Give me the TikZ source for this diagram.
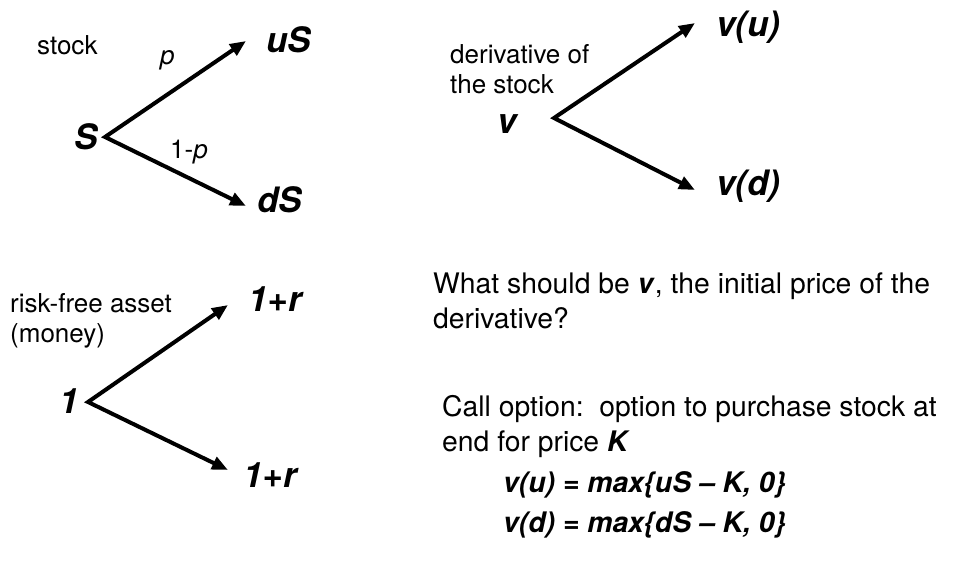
\documentclass[tikz,border=0pt]{standalone}
\usepackage{fontspec}
\setmainfont{TeX Gyre Heros}
\usetikzlibrary{arrows.meta}
\begin{document}
\begin{tikzpicture}[x=1pt,y=-1pt,
  small/.style={font=\fontsize{26}{30}\selectfont, inner sep=0pt},
  main/.style={font=\fontsize{28.3}{35}\selectfont, inner sep=0pt},
  big/.style={font=\fontsize{35}{40}\selectfont\bfseries\itshape, inner sep=0pt},
  formula/.style={font=\fontsize{28.3}{35}\selectfont\bfseries\itshape, inner sep=0pt},
  branch/.style={line width=4pt, line join=miter,
    {Triangle[length=16pt,width=13pt]}-{Triangle[length=16pt,width=13pt]}}]
\fill[white] (0,0) rectangle (958,565);
\useasboundingbox (0,0) rectangle (958,565);

% stock tree
\node[small, anchor=base west] (stocklbl) at (37,54) {stock};
\node[small, anchor=base west] (plbl) at (160,64) {\itshape p};
\node[small, anchor=base west] (qlbl) at (170,158) {1-\textit{p}};
\node[big, anchor=base west] (S) at (74,149) {S};
\node[big, anchor=base west] (uS) at (266,52) {uS};
\node[big, anchor=base west] (dS) at (257,212) {dS};
\coordinate (s0) at (105,137);
\coordinate (s1) at (246,41);
\coordinate (s2) at (246,206);
\draw[branch] (s1) -- (s0) -- (s2);

% derivative tree
\node[small, anchor=north west, align=left] (derivlbl) at (450,44) {derivative of\\the stock};
\node[big, anchor=base west] (v) at (497,133) {v};
\node[big, anchor=base west] (vu) at (716,36) {v(u)};
\node[big, anchor=base west] (vd) at (716,195) {v(d)};
\coordinate (d0) at (554,118);
\coordinate (d1) at (695,23);
\coordinate (d2) at (695,190);
\draw[branch] (d1) -- (d0) -- (d2);

% money tree
\node[small, anchor=north west, align=left] (rflbl) at (10,293) {risk-free asset\\(money)};
\node[big, anchor=base west] (one) at (59,413) {1};
\node[big, anchor=base west] (r1) at (248,311) {1+r};
\node[big, anchor=base west] (r2) at (243,487) {1+r};
\coordinate (m0) at (88,402);
\coordinate (m1) at (228,305);
\coordinate (m2) at (228,470);
\draw[branch] (m1) -- (m0) -- (m2);

% right text
\node[main, anchor=north west, align=left] (question) at (433,273)
  {What should be \textbf{\textit{v}}, the initial price of the\\derivative?};
\node[main, anchor=north west, align=left] (call) at (442,395)
  {Call option:\ \ option to purchase stock at\\end for price \textbf{\textit{K}}};
\node[formula, anchor=base west] (fu) at (503,492) {v(u) = max\{uS – K, 0\}};
\node[formula, anchor=base west] (fd) at (503,532) {v(d) = max\{dS – K, 0\}};
\end{tikzpicture}
\end{document}
